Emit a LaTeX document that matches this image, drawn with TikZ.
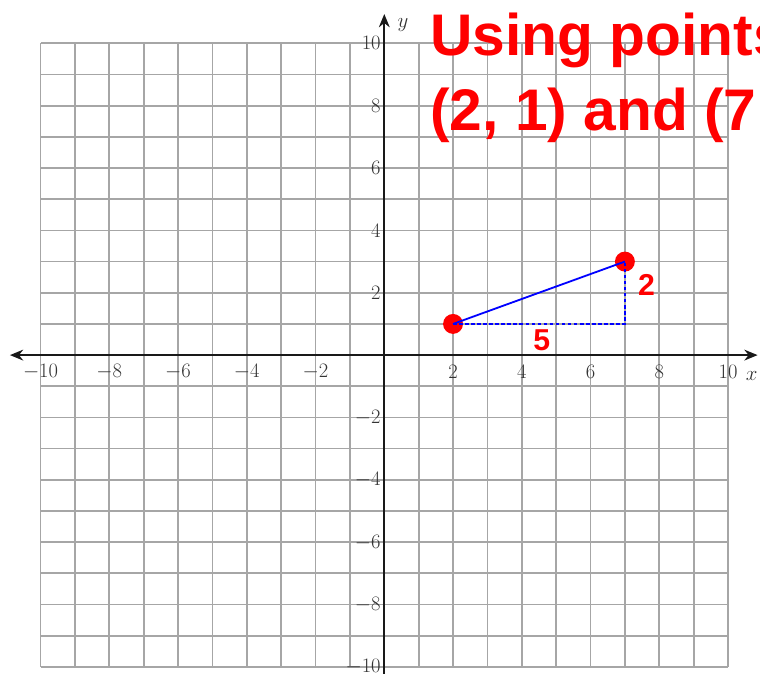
\documentclass[tikz,border=0pt]{standalone}
\usepackage{fontspec}
\usepackage{tikz}
\usetikzlibrary{arrows.meta}
\newfontfamily\titlefont{Liberation Sans}

\begin{document}
\begin{tikzpicture}[x=1cm, y=0.907cm,
  gridline/.style={gray!70, line width=1.4pt},
  axisline/.style={black!90, line width=1.4pt},
  ticklabel/.style={black!80, inner sep=0pt, font=\fontsize{17}{19}\selectfont},
  redpoint/.style={circle, fill=red, inner sep=0pt, minimum size=0.58cm},
  redlabel/.style={red, inner sep=0pt, font=\titlefont\bfseries\fontsize{25}{30}\selectfont},
  titletext/.style={red, anchor=base west, inner sep=0pt, font=\titlefont\bfseries\fontsize{48.6}{58}\selectfont}]
\clip (-11.18,-10.20) rectangle (10.93,11.39);
% grid
\foreach \i in {-10,...,10}{
\draw[gridline] (\i,-10) -- (\i,10);
\draw[gridline] (-10,\i) -- (10,\i);
}
% axes
\draw[axisline, {Stealth[length=11pt, width=9pt]}-{Stealth[length=11pt, width=9pt]}] (-10.89,0) -- (10.86,0);
\draw[axisline, -{Stealth[length=11pt, width=9pt]}] (0,-10.6) -- (0,10.94);
\node[black!80, font=\fontsize{18}{20}\selectfont] (ylbl) at (0.54,10.59) {$y$};
\node[black!80, font=\fontsize{18}{20}\selectfont] (xlbl) at (10.69,-0.66) {$x$};
\foreach \x/\lbl in {-10/$-$10, -8/$-$8, -6/$-$6, -4/$-$4, -2/$-$2, 2/2, 4/4, 6/6, 8/8, 10/10}{
\node[ticklabel] (xt\x) at (\x,-0.54) {\lbl};
\node[ticklabel, anchor=east] (yt\x) at (-0.1,\x) {\lbl};
}
% points and triangle
\node[redpoint] (p1) at (2,1) {};
\node[redpoint] (p2) at (7,3) {};
\coordinate (corner) at (7,1);
\draw[blue, line width=1.5pt] (p1.center) -- (p2.center);
\draw[blue, line width=1.3pt, dash pattern=on 3pt off 2pt] (p1.center) -- (corner) -- (p2.center);
\node[redlabel] (rise) at (7.63,2.25) {2};
\node[redlabel] (run) at (4.58,0.48) {5};
% title
\node[titletext] (title1) at (1.33,9.62) {Using points};
\node[titletext] (title2) at (1.33,7.22) {(2, 1) and (7};
\end{tikzpicture}
\end{document}
